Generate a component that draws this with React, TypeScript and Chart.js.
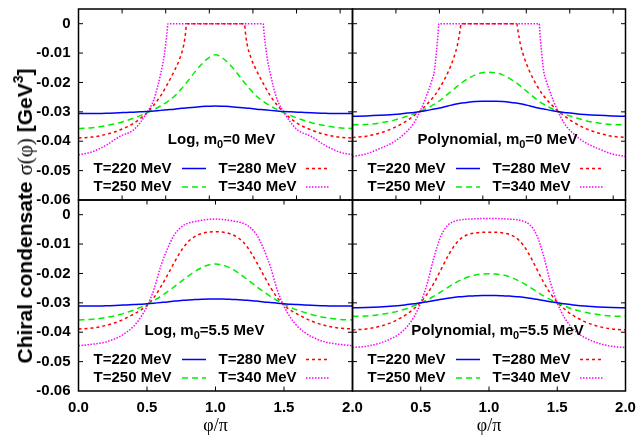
import React, { useEffect, useRef } from 'react';
import { Chart, registerables } from 'chart.js';
Chart.register(...registerables);

// ---------- data ----------
const X = [0, 0.1, 0.2, 0.3, 0.35, 0.4, 0.45, 0.5, 0.55, 0.6, 0.65, 0.7, 0.75, 0.8, 0.85, 0.9, 0.95, 1.0,
  1.05, 1.1, 1.15, 1.2, 1.25, 1.3, 1.35, 1.4, 1.45, 1.5, 1.55, 1.6, 1.65, 1.7, 1.8, 1.9, 2.0];

// Log, m0 = 0 MeV
const LOG0_T220 = [-0.0306,-0.0306,-0.0305,-0.0303,-0.0302,-0.0301,-0.0300,-0.0299,-0.0297,-0.0295,-0.0293,-0.0291,-0.0288,-0.0286,-0.0284,-0.0282,-0.0281,-0.0280,-0.0281,-0.0282,-0.0284,-0.0286,-0.0288,-0.0291,-0.0293,-0.0295,-0.0297,-0.0299,-0.0300,-0.0301,-0.0302,-0.0303,-0.0305,-0.0306,-0.0306];
const LOG0_T250 = [-0.0357,-0.0354,-0.0347,-0.0337,-0.0330,-0.0322,-0.0313,-0.0303,-0.0292,-0.0280,-0.0265,-0.0247,-0.0222,-0.0194,-0.0164,-0.0137,-0.0116,-0.0106,-0.0116,-0.0137,-0.0164,-0.0194,-0.0222,-0.0247,-0.0265,-0.0280,-0.0292,-0.0303,-0.0313,-0.0322,-0.0330,-0.0337,-0.0347,-0.0354,-0.0357];
const LOG0_T280_X = [0,0.1,0.2,0.3,0.4,0.45,0.5,0.55,0.6,0.65,0.7,0.74,0.77,0.783,0.788,1.0,1.212,1.217,1.23,1.26,1.3,1.35,1.4,1.45,1.5,1.55,1.6,1.7,1.8,1.9,2.0];
const LOG0_T280 = [-0.0389,-0.0386,-0.0377,-0.0362,-0.0340,-0.0323,-0.0303,-0.0277,-0.0245,-0.0205,-0.0160,-0.0118,-0.0068,-0.0025,0,0,0,-0.0025,-0.0068,-0.0118,-0.0160,-0.0205,-0.0245,-0.0277,-0.0303,-0.0323,-0.0340,-0.0362,-0.0377,-0.0386,-0.0389];
const LOG0_T340_X = [0,0.1,0.2,0.3,0.4,0.45,0.5,0.55,0.6,0.625,0.645,0.653,1.0,1.347,1.355,1.375,1.4,1.45,1.5,1.55,1.6,1.7,1.8,1.9,2.0];
const LOG0_T340 = [-0.0446,-0.0436,-0.0414,-0.0384,-0.0362,-0.0337,-0.0302,-0.0258,-0.0170,-0.0110,-0.0035,0,0,0,-0.0035,-0.0110,-0.0170,-0.0258,-0.0302,-0.0337,-0.0362,-0.0384,-0.0414,-0.0436,-0.0446];

// Polynomial, m0 = 0 MeV
const POLY0_T220 = [-0.0315,-0.0314,-0.0312,-0.0309,-0.0307,-0.0304,-0.0302,-0.0299,-0.0295,-0.0290,-0.0286,-0.0280,-0.0274,-0.0270,-0.0267,-0.0265,-0.0264,-0.0264,-0.0264,-0.0265,-0.0267,-0.0270,-0.0274,-0.0280,-0.0286,-0.0290,-0.0295,-0.0299,-0.0302,-0.0304,-0.0307,-0.0309,-0.0312,-0.0314,-0.0315];
const POLY0_T250 = [-0.0344,-0.0343,-0.0338,-0.0329,-0.0322,-0.0315,-0.0307,-0.0298,-0.0287,-0.0274,-0.0258,-0.0239,-0.0220,-0.0201,-0.0186,-0.0174,-0.0167,-0.0165,-0.0167,-0.0174,-0.0186,-0.0201,-0.0220,-0.0239,-0.0258,-0.0274,-0.0287,-0.0298,-0.0307,-0.0315,-0.0322,-0.0329,-0.0338,-0.0343,-0.0344];
const POLY0_T280_X = [0,0.1,0.2,0.3,0.4,0.45,0.5,0.55,0.6,0.65,0.7,0.74,0.77,0.788,0.796,1.0,1.204,1.212,1.23,1.26,1.3,1.35,1.4,1.45,1.5,1.55,1.6,1.7,1.8,1.9,2.0];
const POLY0_T280 = [-0.0387,-0.0383,-0.0372,-0.0355,-0.0330,-0.0313,-0.0295,-0.0272,-0.0245,-0.0210,-0.0165,-0.0118,-0.0070,-0.0023,0,0,0,-0.0023,-0.0070,-0.0118,-0.0165,-0.0210,-0.0245,-0.0272,-0.0295,-0.0313,-0.0330,-0.0355,-0.0372,-0.0383,-0.0387];
const POLY0_T340_X = [0,0.1,0.2,0.3,0.4,0.45,0.5,0.55,0.58,0.6,0.615,0.625,0.633,1.0,1.367,1.375,1.385,1.4,1.42,1.45,1.5,1.55,1.6,1.7,1.8,1.9,2.0];
const POLY0_T340 = [-0.0452,-0.0443,-0.0425,-0.0403,-0.0366,-0.0338,-0.0293,-0.0236,-0.0195,-0.0160,-0.0095,-0.0045,0,0,0,-0.0045,-0.0095,-0.0160,-0.0195,-0.0236,-0.0293,-0.0338,-0.0366,-0.0403,-0.0425,-0.0443,-0.0452];

// Log, m0 = 5.5 MeV
const LOG55_T220 = [-0.0311,-0.0311,-0.0310,-0.0308,-0.0307,-0.0306,-0.0305,-0.0303,-0.0301,-0.0299,-0.0297,-0.0294,-0.0292,-0.0290,-0.0289,-0.0288,-0.0287,-0.0287,-0.0287,-0.0288,-0.0289,-0.0290,-0.0292,-0.0294,-0.0297,-0.0299,-0.0301,-0.0303,-0.0305,-0.0306,-0.0307,-0.0308,-0.0310,-0.0311,-0.0311];
const LOG55_T250 = [-0.0358,-0.0356,-0.0350,-0.0340,-0.0333,-0.0325,-0.0316,-0.0305,-0.0292,-0.0278,-0.0262,-0.0245,-0.0227,-0.0209,-0.0193,-0.0180,-0.0171,-0.0168,-0.0171,-0.0180,-0.0193,-0.0209,-0.0227,-0.0245,-0.0262,-0.0278,-0.0292,-0.0305,-0.0316,-0.0325,-0.0333,-0.0340,-0.0350,-0.0356,-0.0358];
const LOG55_T280 = [-0.0389,-0.0386,-0.0377,-0.0362,-0.0351,-0.0339,-0.0326,-0.0308,-0.0282,-0.0246,-0.0205,-0.0162,-0.0122,-0.0092,-0.0074,-0.0064,-0.0059,-0.0058,-0.0059,-0.0064,-0.0074,-0.0092,-0.0122,-0.0162,-0.0205,-0.0246,-0.0282,-0.0308,-0.0326,-0.0339,-0.0351,-0.0362,-0.0377,-0.0386,-0.0389];
const LOG55_T340 = [-0.0446,-0.0441,-0.0433,-0.0415,-0.0400,-0.0381,-0.0352,-0.0312,-0.0255,-0.0176,-0.0115,-0.0068,-0.0042,-0.0029,-0.0023,-0.0019,-0.0016,-0.0015,-0.0016,-0.0019,-0.0023,-0.0029,-0.0042,-0.0068,-0.0115,-0.0176,-0.0255,-0.0312,-0.0352,-0.0381,-0.0400,-0.0415,-0.0433,-0.0441,-0.0446];

// Polynomial, m0 = 5.5 MeV
const POLY55_T220 = [-0.0317,-0.0316,-0.0314,-0.0311,-0.0309,-0.0306,-0.0303,-0.0300,-0.0296,-0.0292,-0.0288,-0.0284,-0.0281,-0.0279,-0.0277,-0.0276,-0.0275,-0.0275,-0.0275,-0.0276,-0.0277,-0.0279,-0.0281,-0.0284,-0.0288,-0.0292,-0.0296,-0.0300,-0.0303,-0.0306,-0.0309,-0.0311,-0.0314,-0.0316,-0.0317];
const POLY55_T250 = [-0.0346,-0.0345,-0.0340,-0.0332,-0.0326,-0.0319,-0.0310,-0.0300,-0.0289,-0.0276,-0.0262,-0.0247,-0.0233,-0.0221,-0.0211,-0.0205,-0.0202,-0.0201,-0.0202,-0.0205,-0.0211,-0.0221,-0.0233,-0.0247,-0.0262,-0.0276,-0.0289,-0.0300,-0.0310,-0.0319,-0.0326,-0.0332,-0.0340,-0.0345,-0.0346];
const POLY55_T280 = [-0.0392,-0.0389,-0.0380,-0.0364,-0.0352,-0.0338,-0.0320,-0.0298,-0.0268,-0.0230,-0.0185,-0.0140,-0.0103,-0.0079,-0.0067,-0.0062,-0.0060,-0.0060,-0.0060,-0.0062,-0.0067,-0.0079,-0.0103,-0.0140,-0.0185,-0.0230,-0.0268,-0.0298,-0.0320,-0.0338,-0.0352,-0.0364,-0.0380,-0.0389,-0.0392];
const POLY55_T340 = [-0.0452,-0.0448,-0.0437,-0.0418,-0.0403,-0.0381,-0.0348,-0.0300,-0.0230,-0.0140,-0.0070,-0.0035,-0.0022,-0.0017,-0.0015,-0.0014,-0.0013,-0.0013,-0.0013,-0.0014,-0.0015,-0.0017,-0.0022,-0.0035,-0.0070,-0.0140,-0.0230,-0.0300,-0.0348,-0.0381,-0.0403,-0.0418,-0.0437,-0.0448,-0.0452];

const SERIES_LABELS = ['T=220 MeV', 'T=250 MeV', 'T=280 MeV', 'T=340 MeV'];
const Y_TICKS = [0, -0.01, -0.02, -0.03, -0.04, -0.05, -0.06];
const X_TICKS = [0, 0.5, 1.0, 1.5, 2.0];
const TOP_X_TICKS_RAD = [1, 2, 3, 4, 5, 6];
const Y_TITLE = ['Chiral condensate ', 'σ(φ)', ' [GeV', '3', ']'];
const X_TITLE = 'φ/π';

// ---------- styles ----------
const W = 637, H = 439;
const COLORS = ['#0000ff', '#00ee00', '#ff0000', '#ff00ff'];
const DASHES = [[], [6, 4], [3, 3], [1.5, 1.5]];
const FONT = '"Liberation Sans", Arial, Helvetica, sans-serif';
const TICK_LEN = 4.5;

type Panel = {
  title: string[];
  titleCx: number;
  xs: number[][];
  ys: number[][];
  box: [number, number, number, number];
  showY: boolean;
  showX: boolean;
  hideZeroX: boolean;
  topTicks: boolean;
};

const PANELS: Panel[] = [
  { title: ['Log, m', '0', '=0 MeV'], titleCx: 143, xs: [X, X, LOG0_T280_X, LOG0_T340_X], ys: [LOG0_T220, LOG0_T250, LOG0_T280, LOG0_T340],
    box: [78.5, 9, 352.5, 200], showY: true, showX: false, hideZeroX: false, topTicks: true },
  { title: ['Polynomial, m', '0', '=0 MeV'], titleCx: 145, xs: [X, X, POLY0_T280_X, POLY0_T340_X], ys: [POLY0_T220, POLY0_T250, POLY0_T280, POLY0_T340],
    box: [352.5, 9, 625.5, 200], showY: false, showX: false, hideZeroX: false, topTicks: true },
  { title: ['Log, m', '0', '=5.5 MeV'], titleCx: 126, xs: [X, X, X, X], ys: [LOG55_T220, LOG55_T250, LOG55_T280, LOG55_T340],
    box: [78.5, 200, 352.5, 391], showY: true, showX: true, hideZeroX: false, topTicks: false },
  { title: ['Polynomial, m', '0', '=5.5 MeV'], titleCx: 145, xs: [X, X, X, X], ys: [POLY55_T220, POLY55_T250, POLY55_T280, POLY55_T340],
    box: [352.5, 200, 625.5, 391], showY: false, showX: true, hideZeroX: true, topTicks: false },
];

function makeDecor(panel: Panel) {
  return {
    id: 'decor',
    afterDraw(chart: any) {
      const ctx = chart.ctx as CanvasRenderingContext2D;
      const { left, right, top, bottom } = chart.chartArea;
      const xs = chart.scales.x, ys = chart.scales.y;
      ctx.save();
      // inward ticks
      ctx.strokeStyle = '#000';
      ctx.lineWidth = 1;
      ctx.setLineDash([]);
      ctx.beginPath();
      ys.ticks.forEach((t: any) => {
        const y = ys.getPixelForValue(t.value);
        if (y <= top + 1 || y >= bottom - 1) return;
        ctx.moveTo(left, y); ctx.lineTo(left + TICK_LEN, y);
        ctx.moveTo(right, y); ctx.lineTo(right - TICK_LEN, y);
      });
      xs.ticks.forEach((t: any) => {
        const x = xs.getPixelForValue(t.value);
        if (x <= left + 1 || x >= right - 1) return;
        ctx.moveTo(x, bottom); ctx.lineTo(x, bottom - TICK_LEN);
        ctx.moveTo(x, top); ctx.lineTo(x, top + TICK_LEN);
      });
      ctx.stroke();
      // frame
      ctx.lineWidth = 1.5;
      ctx.strokeRect(left, top, right - left, bottom - top);

      // panel title
      const [a, sub, b] = panel.title;
      ctx.fillStyle = '#000';
      ctx.textBaseline = 'middle';
      ctx.textAlign = 'left';
      ctx.font = `bold 15px ${FONT}`;
      const wa = ctx.measureText(a).width;
      const wb = ctx.measureText(b).width;
      ctx.font = `bold 11px ${FONT}`;
      const ws = ctx.measureText(sub).width;
      const ty = top + 131;
      const x0 = left + panel.titleCx - (wa + ws + wb) / 2;
      ctx.font = `bold 15px ${FONT}`;
      ctx.fillText(a, x0, ty);
      ctx.fillText(b, x0 + wa + ws, ty);
      ctx.font = `bold 11px ${FONT}`;
      ctx.fillText(sub, x0 + wa, ty + 4.5);

      // legend (2 columns x 2 rows)
      const colText = [93, 218];
      const colLine = [103.5, 227.5];
      const rowY = [159.5, 178];
      chart.data.datasets.forEach((ds: any, i: number) => {
        const c = Math.floor(i / 2), r = i % 2;
        const y = top + rowY[r];
        ctx.font = `bold 15px ${FONT}`;
        ctx.textAlign = 'right';
        ctx.fillStyle = '#000';
        ctx.fillText(ds.label, left + colText[c], y);
        ctx.beginPath();
        ctx.strokeStyle = ds.borderColor;
        ctx.lineWidth = ds.borderWidth;
        ctx.setLineDash(ds.borderDash || []);
        ctx.moveTo(left + colLine[c], y);
        ctx.lineTo(left + colLine[c] + 24, y);
        ctx.stroke();
      });
      ctx.restore();
    },
  };
}

function PanelChart({ panel }: { panel: Panel }) {
  const ref = useRef<HTMLCanvasElement>(null);
  useEffect(() => {
    const [L, T, R, B] = panel.box;
    const YW = 60, XH = 30;
    const tickFont = { family: FONT, size: 15, weight: 'bold' as const };
    const chart = new Chart(ref.current as HTMLCanvasElement, {
      type: 'line',
      data: {
        datasets: SERIES_LABELS.map((label, i) => ({
          label,
          data: panel.xs[i].map((x, j) => ({ x, y: panel.ys[i][j] })),
          borderColor: COLORS[i],
          borderWidth: 1.5,
          borderDash: DASHES[i],
          pointRadius: 0,
          cubicInterpolationMode: 'monotone' as const,
          fill: false,
        })),
      },
      options: {
        responsive: false,
        animation: false,
        devicePixelRatio: 1,
        events: [],
        layout: { padding: { left: L - YW, top: T, right: W - R, bottom: H - B - XH } },
        plugins: { legend: { display: false }, tooltip: { enabled: false }, title: { display: false } },
        scales: {
          x: {
            type: 'linear', min: 0, max: 2,
            grid: { display: false, drawTicks: false },
            border: { display: false },
            ticks: {
              display: panel.showX, autoSkip: false, maxRotation: 0, padding: 8, color: '#000', font: tickFont,
              callback: (v: any) => (panel.hideZeroX && Number(v) === 0 ? '' : Number(v).toFixed(1)),
            },
            afterBuildTicks: (s: any) => {
              const vals = panel.topTicks ? TOP_X_TICKS_RAD.map((r) => r / Math.PI) : X_TICKS;
              s.ticks = vals.map((value) => ({ value }));
            },
            afterFit: (s: any) => {
              s.height = XH; s.paddingLeft = 0; s.paddingRight = 0; s.paddingTop = 0; s.paddingBottom = 0;
            },
          },
          y: {
            type: 'linear', min: -0.06, max: 0.005,
            grid: { display: false, drawTicks: false },
            border: { display: false },
            ticks: {
              display: panel.showY, autoSkip: false, padding: 8, color: '#000', font: tickFont,
              callback: (v: any) => (Number(v) === 0 ? '0' : Number(v).toFixed(2)),
            },
            afterBuildTicks: (s: any) => { s.ticks = Y_TICKS.map((value) => ({ value })); },
            afterFit: (s: any) => {
              s.width = YW; s.paddingLeft = 0; s.paddingRight = 0; s.paddingTop = 0; s.paddingBottom = 0;
            },
          },
        },
      },
      plugins: [makeDecor(panel)],
    } as any);
    return () => chart.destroy();
  }, [panel]);
  return <canvas ref={ref} width={W} height={H} style={{ position: 'absolute', left: 0, top: 0, width: W, height: H }} />;
}

export default function App() {
  return (
    <div style={{ position: 'absolute', left: 0, top: 0, width: W, height: H, background: '#fff', overflow: 'hidden' }}>
      {PANELS.map((p, i) => <PanelChart key={i} panel={p} />)}
      <div style={{
        position: 'absolute', left: 25, top: 215.5, transform: 'translate(-50%, -50%) rotate(-90deg)',
        whiteSpace: 'nowrap', fontFamily: FONT, fontWeight: 'bold', fontSize: 21, lineHeight: 1, color: '#000',
      }}>
        {Y_TITLE[0]}
        <span style={{ fontFamily: '"Liberation Serif", "Times New Roman", serif', fontWeight: 'normal' }}>{Y_TITLE[1]}</span>
        {Y_TITLE[2]}
        <sup style={{ fontSize: 14, verticalAlign: 'top', position: 'relative', top: -3 }}>{Y_TITLE[3]}</sup>
        {Y_TITLE[4]}
      </div>
      {[215.5, 489].map((cx, i) => (
        <div key={i} style={{
          position: 'absolute', left: cx, top: 425, transform: 'translate(-50%, -50%)', whiteSpace: 'nowrap',
          fontFamily: '"Liberation Serif", "Times New Roman", serif', fontSize: 18, lineHeight: 1, color: '#000',
        }}>{X_TITLE}</div>
      ))}
    </div>
  );
}
